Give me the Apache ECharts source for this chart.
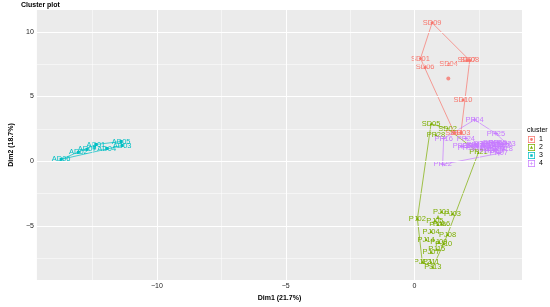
<!DOCTYPE html>
<html>
<head>
<meta charset="utf-8">
<script src="https://cdn.jsdelivr.net/npm/echarts@6/dist/echarts.min.js"></script>
<style>
  html, body { margin: 0; padding: 0; background: #fff; }
  #chart { width: 550px; height: 307px; }
</style>
</head>
<body>
<div id="chart"></div>
<script>
// points as [label, Dim1, Dim2]
const cluster1 = [
  ['SD09', 0.68, 10.69], ['SD01', 0.23, 7.94], ['SD06', 0.41, 7.25],
  ['SD04', 1.32, 7.48], ['SD07', 2.03, 7.79], ['SD08', 2.14, 7.79],
  ['SD10', 1.88, 4.73], ['SD03', 1.80, 2.21], ['SD11', 1.54, 2.21]
]
const cluster2 = [
  ['SD05', 0.64, 2.90], ['SD02', 1.28, 2.52], ['PP28', 0.83, 2.06], ['PP21', 2.48, 0.69],
  ['PJ01', 1.05, -3.89], ['PJ03', 1.47, -4.05], ['PJ02', 0.11, -4.43], ['PJ05', 0.79, -4.58],
  ['PJ16', 1.05, -4.81], ['PJ06', 0.90, -4.89], ['PJ04', 0.64, -5.42], ['PJ08', 1.28, -5.65],
  ['PJ14', 0.45, -6.03], ['PJ09', 0.94, -6.26], ['PJ10', 1.13, -6.34], ['PJ15', 0.86, -6.79],
  ['PJ07', 0.64, -7.02], ['PJ12', 0.30, -7.79], ['PJ11', 0.64, -7.79], ['PJ13', 0.71, -8.17]
]
const cluster3 = [
  ['AD06', -13.72, 0.15], ['AD02', -13.05, 0.69], ['AD07', -12.71, 0.92],
  ['AD01', -12.37, 1.30], ['AD04', -11.95, 0.99], ['AD05', -11.39, 1.53], ['AD03', -11.35, 1.22]
]
const cluster4 = [
  ['PP04', 2.33, 3.21], ['PP25', 3.16, 2.14], ['PP16', 1.13, 1.76], ['PP24', 1.99, 1.76],
  ['PP22', 1.09, -0.23], ['PP23', 3.57, 1.37], ['PP01', 2.63, 1.37], ['PP02', 2.82, 1.37],
  ['PP03', 3.01, 1.45], ['PP05', 3.23, 1.45], ['PP06', 2.22, 1.15], ['PP07', 3.27, 0.61],
  ['PP08', 2.44, 1.15], ['PP09', 2.71, 1.15], ['PP10', 2.93, 1.07], ['PP11', 3.12, 1.15],
  ['PP12', 3.35, 1.15], ['PP13', 2.03, 1.07], ['PP14', 2.86, 0.84], ['PP15', 3.08, 0.84],
  ['PP17', 2.59, 0.92], ['PP18', 3.46, 0.92], ['PP19', 2.37, 1.30], ['PP20', 3.42, 1.30],
  ['PP26', 1.84, 1.15], ['PP27', 3.16, 0.92]
]
const centers = [[1.31, 6.40], [0.91, -4.29], [-12.44, 1.07], [2.62, 1.20]]
const clusterNames = ['1', '2', '3', '4']

const xTicks = [-10, -5, 0]
const yTicks = [-5, 0, 5, 10]
const xMinor = [-12.5, -7.5, -2.5, 2.5]
const yMinor = [-7.5, -2.5, 2.5, 7.5]

const colors = ['#F8766D', '#7CAE00', '#00BFC4', '#C77CFF']
const symbols = ['circle', 'triangle', 'rect', 'path://M3.6,0H6.4V3.6H10V6.4H6.4V10H3.6V6.4H0V3.6H3.6Z']
const box = 'M0,0H10V10H0Z M1,1V9H9V1Z '
const legendIcons = [
  'path://' + box + 'M5,3A2,2,0,1,1,5,7A2,2,0,1,1,5,3Z',
  'path://' + box + 'M5,2.6L7.3,6.9H2.7Z',
  'path://' + box + 'M3.2,3.2H6.8V6.8H3.2Z',
  'path://' + box + 'M4.6,2.5H5.4V4.6H7.5V5.4H5.4V7.5H4.6V5.4H2.5V4.6H4.6Z'
]

function hull(pts) {
  const p = pts.map(d => [d[1], d[2]]).sort((a, b) => a[0] - b[0] || a[1] - b[1])
  const cross = (o, a, b) => (a[0] - o[0]) * (b[1] - o[1]) - (a[1] - o[1]) * (b[0] - o[0])
  const lower = [], upper = []
  for (const q of p) {
    while (lower.length >= 2 && cross(lower[lower.length - 2], lower[lower.length - 1], q) <= 0) lower.pop()
    lower.push(q)
  }
  for (const q of p.slice().reverse()) {
    while (upper.length >= 2 && cross(upper[upper.length - 2], upper[upper.length - 1], q) <= 0) upper.pop()
    upper.push(q)
  }
  const h = lower.slice(0, -1).concat(upper.slice(0, -1))
  h.push(h[0])
  return h
}

const minus = v => String(v).replace('-', '\u2212')
const clusters = [cluster1, cluster2, cluster3, cluster4]

const series = [{
  type: 'scatter',
  data: [],
  silent: true,
  z: 0,
  markLine: {
    silent: true,
    symbol: 'none',
    label: { show: false },
    animation: false,
    data: [
      ...xMinor.map(v => ({ xAxis: v, lineStyle: { color: '#fff', width: 0.5, type: 'solid' } })),
      ...yMinor.map(v => ({ yAxis: v, lineStyle: { color: '#fff', width: 0.5, type: 'solid' } })),
      ...xTicks.map(v => ({ xAxis: v, lineStyle: { color: '#fff', width: 1, type: 'solid' } })),
      ...yTicks.map(v => ({ yAxis: v, lineStyle: { color: '#fff', width: 1, type: 'solid' } }))
    ]
  }
}]

clusters.forEach((c, i) => {
  series.push({
    name: 'hull' + i,
    type: 'line',
    data: hull(c),
    symbol: 'none',
    silent: true,
    z: 1,
    lineStyle: { color: colors[i], width: 0.7 }
  })
  series.push({
    name: clusterNames[i],
    type: 'scatter',
    data: c.map(d => ({ name: d[0], value: [d[1], d[2]] })),
    symbol: symbols[i],
    symbolSize: i === 3 ? 4 : 3,
    itemStyle: { color: colors[i], opacity: 1 },
    z: 3,
    labelLayout: { hideOverlap: false },
    label: {
      show: true,
      position: 'inside',
      offset: [0, -2],
      formatter: p => p.name,
      color: colors[i],
      opacity: 1,
      textBorderWidth: 0,
      textShadowBlur: 0,
      fontSize: 7.5,
      fontFamily: 'Liberation Sans'
    }
  })
  series.push({
    name: 'center' + i,
    type: 'scatter',
    data: [centers[i]],
    symbol: symbols[i],
    symbolSize: 4,
    itemStyle: { color: colors[i] },
    z: 2
  })
})

const chart = echarts.init(document.getElementById('chart'))
chart.setOption({
  animation: false,
  textStyle: { fontFamily: 'Liberation Sans' },
  title: [
    { text: 'Cluster plot', left: 21, top: 2, padding: 0, textStyle: { fontSize: 7, fontWeight: 'bold', color: '#000' } },
    { text: 'cluster', left: 527, top: 127, padding: 0, textStyle: { fontSize: 7, fontWeight: 'normal', color: '#000' } }
  ],
  legend: {
    data: clusterNames.map((n, i) => ({ name: n, icon: legendIcons[i] })),
    orient: 'vertical',
    left: 528,
    top: 136,
    itemWidth: 7,
    itemHeight: 7,
    itemGap: 1,
    padding: 0,
    selectedMode: false,
    textStyle: { fontSize: 7, color: '#000', lineHeight: 7, padding: [0, 0, 0, -1] }
  },
  grid: { left: 21, right: 28, top: 10, bottom: 24, show: true, backgroundColor: '#EBEBEB', borderWidth: 0 },
  xAxis: {
    type: 'value',
    min: -14.66,
    max: 4.17,
    name: 'Dim1 (21.7%)',
    nameLocation: 'middle',
    nameGap: 15,
    nameTextStyle: { fontSize: 7, fontWeight: 'bold', color: '#000' },
    axisLine: { show: false },
    axisTick: { show: true, customValues: xTicks, length: 2, lineStyle: { color: '#333' } },
    axisLabel: { customValues: xTicks, fontSize: 7, color: '#222', margin: 3, formatter: minus },
    splitLine: { show: false }
  },
  yAxis: {
    type: 'value',
    min: -9.16,
    max: 11.68,
    name: 'Dim2 (18.7%)',
    nameLocation: 'middle',
    nameGap: 14,
    nameRotate: 90,
    nameTextStyle: { fontSize: 7, fontWeight: 'bold', color: '#000' },
    axisLine: { show: false },
    axisTick: { show: true, customValues: yTicks, length: 2, lineStyle: { color: '#333' } },
    axisLabel: { customValues: yTicks, fontSize: 7, color: '#222', margin: 3, formatter: minus },
    splitLine: { show: false }
  },
  series: series
})
</script>
</body>
</html>
